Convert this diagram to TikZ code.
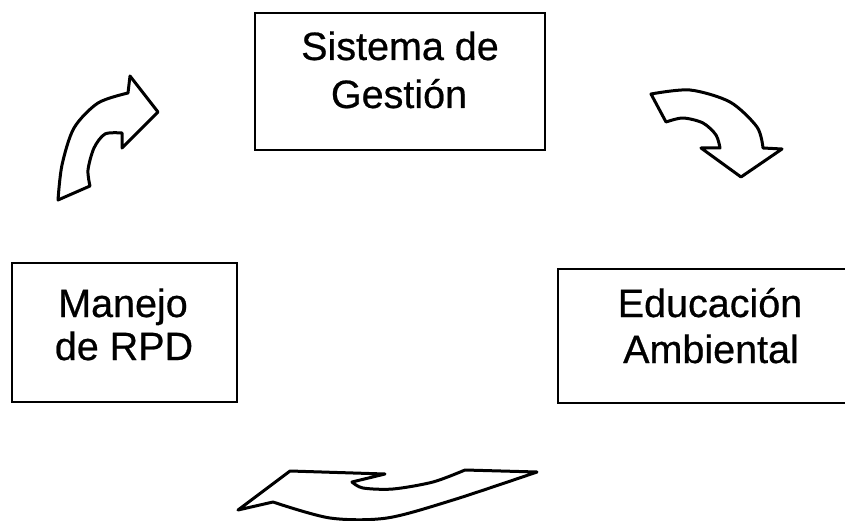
\documentclass[tikz,border=0pt]{standalone}
\usepackage{fontspec}
\setmainfont{Liberation Sans}
\begin{document}
\begin{tikzpicture}[x=1pt,y=-1pt,
  boxstyle/.style={draw=black,line width=2.2pt,fill=none},
  txt/.style={anchor=base,inner sep=0pt,font=\fontsize{39.5}{46}\selectfont\addfontfeature{FakeBold=0.6}},
  curvearrow/.style={draw=black,line width=3pt,line join=round,fill=white}]
\useasboundingbox (0,0) rectangle (845,521);
\clip (0,0) rectangle (845,521);
% boxes
\draw[boxstyle] (255,13) rectangle (545,150);
\node[coordinate] (boxtop) at (400,81) {};
\draw[boxstyle] (12,263) rectangle (237,402);
\node[coordinate] (boxleft) at (124,332) {};
\draw[boxstyle] (558,269) rectangle (860,403);
\node[coordinate] (boxright) at (710,336) {};
% texts
\node[txt] (t1) at (400,60) {Sistema de};
\node[txt] (t2) at (399,108) {Gestión};
\node[txt] (l1) at (123,317) {Manejo};
\node[txt] (l2) at (124,360) {de RPD};
\node[txt] (r1) at (710,317) {Educación};
\node[txt] (r2) at (711,363) {Ambiental};
% arrow top-left
\draw[curvearrow] (58,200) -- plot[smooth] coordinates {(58,200)(62,165)(74,128)(98,103)(128,93)}
  -- (130,76) -- (158,112) -- (122,148) -- (122,133)
  -- plot[smooth] coordinates {(122,133)(105,134)(94,148)(88,170)(90,186)} -- cycle;
% arrow top-right
\draw[curvearrow] (651,94) -- plot[smooth] coordinates {(651,94)(690,90)(730,102)(757,127)(763,148)}
  -- (782,149) -- (741,177) -- (701,148) -- (720,148)
  -- plot[smooth] coordinates {(720,148)(716,135)(703,123)(683,118)(666,122)} -- cycle;
% arrow bottom
\draw[curvearrow] (537,472) -- plot[smooth] coordinates {(537,472)(453,500)(387,518)(330,518)(273,502)}
  -- (238,510) -- (290,471) -- (385,474) -- (352,482)
  -- plot[smooth] coordinates {(352,482)(363,488)(393,489)(433,482)(465,470)} -- cycle;
\end{tikzpicture}
\end{document}
